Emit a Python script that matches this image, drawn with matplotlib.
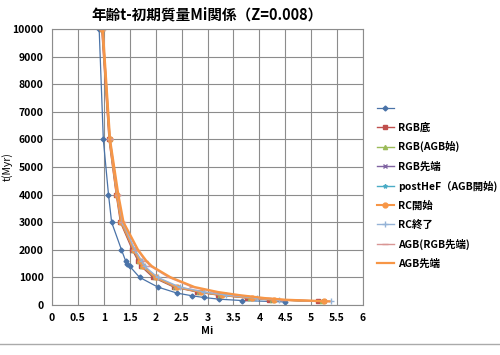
import matplotlib
matplotlib.use("Agg")
import matplotlib.pyplot as plt
from matplotlib.lines import Line2D

plt.rcParams['font.family'] = ['Noto Sans CJK JP', 'DejaVu Sans']

# 最初の系列 (名前なし)
mi0 = [0.91, 0.99, 1.09, 1.15, 1.34, 1.42, 1.45, 1.50, 1.69, 2.04, 2.41, 2.71, 2.93, 3.22, 3.66, 4.50]
t0 = [10000, 6000, 4000, 3000, 2000, 1600, 1500, 1400, 1000, 650, 430, 330, 270, 210, 160, 110]

# 他の系列の年齢
t = [10000, 6000, 4000, 3000, 2000, 1600, 1400, 1000, 650, 470, 360, 250, 190, 130]

mi_rgb_base = [0.96, 1.10, 1.24, 1.32, 1.55, 1.66, 1.72, 1.95, 2.35, 2.80, 3.20, 3.77, 4.19, 5.14]
mi_rgb_agb = [0.97, 1.11, 1.25, 1.33, 1.57, 1.68, 1.74, 1.98, 2.38, 2.84, 3.25, 3.82, 4.24, 5.20]
mi_rgb_tip = [0.97, 1.11, 1.25, 1.34, 1.57, 1.69, 1.75, 1.99, 2.40, 2.86, 3.27, 3.85, 4.27, 5.24]
mi_posthef = [0.97, 1.11, 1.25, 1.34, 1.58, 1.69, 1.75, 1.99, 2.40, 2.86, 3.27, 3.85, 4.27, 5.24]
mi_rc_start = [0.97, 1.11, 1.25, 1.34, 1.58, 1.70, 1.76, 2.00, 2.41, 2.87, 3.28, 3.86, 4.28, 5.25]
mi_rc_end = [0.98, 1.12, 1.27, 1.36, 1.60, 1.73, 1.79, 2.04, 2.46, 2.93, 3.35, 3.95, 4.38, 5.38]
mi_agb_rgbtip = [0.98, 1.12, 1.27, 1.37, 1.64, 1.80, 1.90, 2.25, 2.70, 3.15, 3.55, 4.05, 4.45, 5.30]
mi_agb_tip = [0.98, 1.12, 1.28, 1.38, 1.66, 1.82, 1.93, 2.29, 2.75, 3.20, 3.60, 4.10, 4.50, 5.35]

fig = plt.figure(figsize=(5, 3.55), dpi=100)
ax = fig.add_axes([0.104, 0.141, 0.622, 0.777])

ax.plot(mi0, t0, color='#4A73A8', marker='D', markersize=2.5, lw=0.9, label=' ')
ax.plot(mi_rgb_base, t, color='#C0504D', marker='s', markersize=3, lw=1, label='RGB底')
ax.plot(mi_rgb_agb, t, color='#9BBB59', marker='^', markersize=3, lw=1, label='RGB(AGB始)')
ax.plot(mi_rgb_tip, t, color='#8064A2', marker='x', markersize=3, lw=1, label='RGB先端')
ax.plot(mi_posthef, t, color='#4BACC6', marker='*', markersize=3, lw=1, label='postHeF（AGB開始)')
ax.plot(mi_rc_start, t, color='#F79646', marker='o', markersize=3.5, lw=1.5, label='RC開始')
ax.plot(mi_rc_end, t, color='#95B3D7', marker='+', markersize=4, lw=1, label='RC終了')
ax.plot(mi_agb_rgbtip, t, color='#D99694', marker='_', markersize=4, lw=1, label='AGB(RGB先端)')
ax.plot(mi_agb_tip, t, color='#F79646', lw=1.6, label='AGB先端')

ax.set_xlim(0, 6)
ax.set_ylim(0, 10000)
ax.set_xticks([i * 0.5 for i in range(13)])
ax.set_xticklabels(['0', '0.5', '1', '1.5', '2', '2.5', '3', '3.5', '4', '4.5', '5', '5.5', '6'])
ax.set_yticks(range(0, 10001, 1000))
ax.grid(True, color='#8c8c8c', lw=0.8)
ax.set_axisbelow(True)
for s in ax.spines.values():
    s.set_color('#8c8c8c')
    s.set_linewidth(0.8)
ax.tick_params(length=0, labelsize=7.5, pad=6)
for lab in ax.get_xticklabels() + ax.get_yticklabels():
    lab.set_fontweight('bold')

ax.set_xlabel('Mi', fontsize=7.5, fontweight='bold', labelpad=2)
ax.set_ylabel('t(Myr)', fontsize=7.5)
ax.yaxis.set_label_coords(-0.125, 0.5)
ax.set_title('年齢t-初期質量Mi関係（Z=0.008）', fontsize=10.5, fontweight='bold', pad=7)

ax.legend(loc='upper left', bbox_to_anchor=(1.015, 0.765), frameon=False,
          handlelength=1.6, labelspacing=0.85, handletextpad=0.4,
          prop={'weight': 'bold', 'size': 7.5})

fig.add_artist(Line2D([0, 1], [0.03, 0.03], color='#aaaaaa', lw=1))

fig.savefig('out.png', dpi=100)
